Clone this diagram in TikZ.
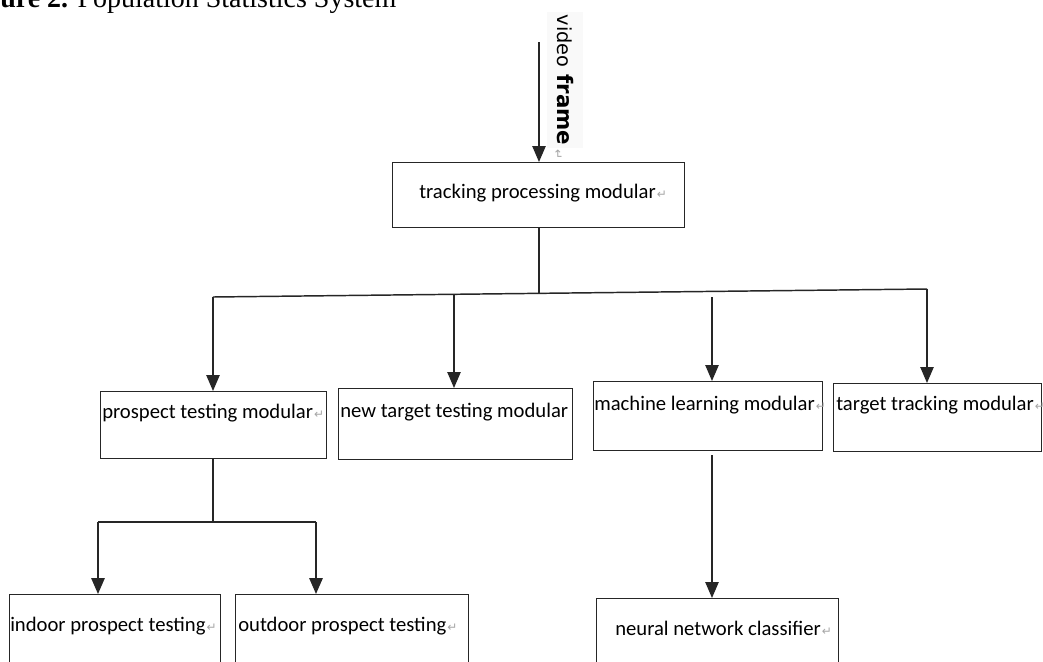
\documentclass[tikz,border=0pt]{standalone}
\usepackage{fontspec}
\setmainfont{Carlito}
\newfontfamily\capfont{Liberation Serif}
\newfontfamily\dejavu{DejaVu Sans}
\usetikzlibrary{arrows.meta}
\newcommand\retmark{{\color{gray!70}\fontsize{9}{10}\selectfont\dejavu\kern0.8pt↵}}
\begin{document}
\begin{tikzpicture}[x=0.75pt,y=-0.75pt,
  box/.style={draw=black!85,line width=1.1pt,inner sep=0pt,anchor=north west},
  lbl/.style={inner sep=0pt,anchor=base west,font=\fontsize{15.5}{18}\selectfont},
  conn/.style={draw=black!85,line width=1.1pt},
  thick conn/.style={draw=black!85,line width=1.5pt},
  arr/.style={-{Triangle[length=12pt,width=10pt]}}]
\clip (0,0) rectangle (1043,661);
\fill[white] (0,0) rectangle (1043,661);
% caption
\node[inner sep=0pt,anchor=base west,font=\capfont\fontsize{21}{24}\selectfont] (cap) at (0,7) {\textbf{ure 2.} Population Statistics System};
% video frame label
\node[rotate=-90,fill=gray!5,inner sep=0pt,minimum width=102pt,minimum height=27pt,font=\dejavu] (vid) at (565,80) {{\fontsize{14.5}{16}\selectfont video}\hspace{5pt}{\bfseries\fontsize{16}{18}\selectfont frame}};
\node[rotate=-90,inner sep=0pt] (vidret) at (558,154) {\retmark};
% boxes
\node[box,minimum width=169.5pt,minimum height=50.25pt] (pt) at (100,391) {};
\node[box,minimum width=219pt,minimum height=48.75pt] (tp) at (392,162) {};
\node[box,minimum width=175.5pt,minimum height=53.25pt] (nt) at (338,388) {};
\node[box,minimum width=171.75pt,minimum height=51.75pt] (ml) at (593,381) {};
\node[box,minimum width=156pt,minimum height=51pt] (tt) at (833,383) {};
\node[box,minimum width=158.25pt,minimum height=60pt] (in) at (9,594) {};
\node[box,minimum width=174.75pt,minimum height=60pt] (out) at (235,594) {};
\node[box,minimum width=181.5pt,minimum height=60pt] (nn) at (596,598) {};
% texts
\node[lbl] (tpt) at (419,198) {tracking processing modular\retmark};
\node[lbl] (ptt) at (102,418) {prospect testing modular\retmark};
\node[lbl] (ntt) at (340,417) {new target testing modular};
\node[lbl] (mlt) at (594,410) {machine learning modular\retmark};
\node[lbl] (ttt) at (836,410) {target tracking modular\retmark};
\node[lbl] (int) at (10,631) {indoor prospect testing\retmark};
\node[lbl] (outt) at (238,631) {outdoor prospect testing\retmark};
\node[lbl] (nnt) at (615,635) {neural network classifier\retmark};
% coordinates
\coordinate (vtop) at (539,42);
\coordinate (trunk) at (539,293.3);
\coordinate (bL) at (213,297);
\coordinate (bR) at (927,289);
\coordinate (b2) at (454,294.3);
\coordinate (b3) at (712,297);
\coordinate (pj) at (213,522);
\coordinate (pL) at (98,522);
\coordinate (pR) at (316,522);
\coordinate (mlo) at (712,455);
% connectors
\draw[conn,arr] (vtop) -- (vtop |- tp.north);
\draw[conn] (tp.south -| trunk) -- (trunk);
\draw[conn] (bL) -- (bR);
\draw[conn,arr] (bL) -- (bL |- pt.north);
\draw[conn,arr] (b2) -- (b2 |- nt.north);
\draw[conn,arr] (b3) -- (b3 |- ml.north);
\draw[conn,arr] (bR) -- (bR |- tt.north);
\draw[thick conn] (pt.south -| pj) -- (pj);
\draw[thick conn] (pL) -- (pR);
\draw[thick conn,arr] (pL) -- (pL |- in.north);
\draw[thick conn,arr] (pR) -- (pR |- out.north);
\draw[conn,arr] (mlo) -- (mlo |- nn.north);
\end{tikzpicture}
\end{document}
